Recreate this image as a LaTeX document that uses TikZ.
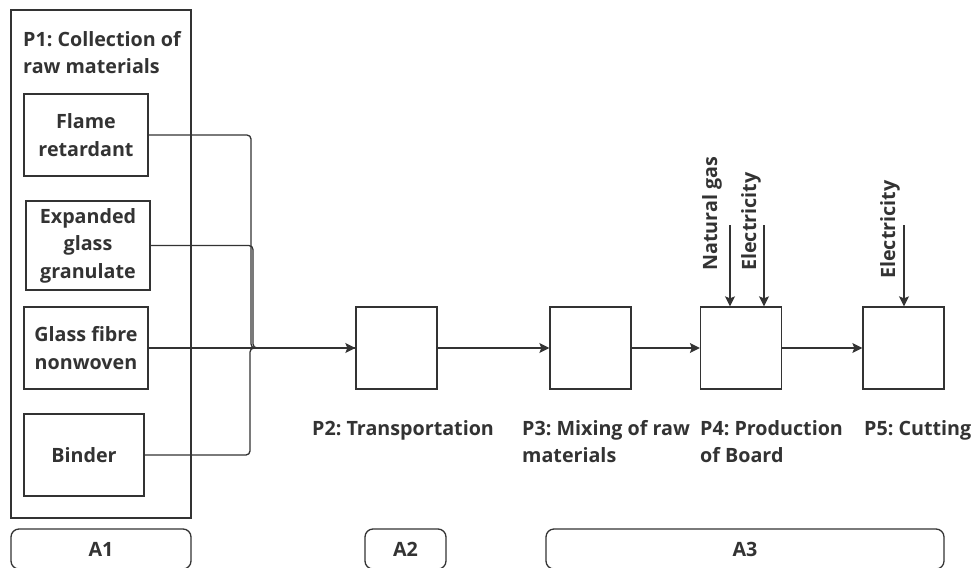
\documentclass[tikz,border=0pt]{standalone}
\usepackage{fontspec}
\setmainfont{Open Sans}
\usetikzlibrary{arrows.meta}
\definecolor{ink}{HTML}{333333}
\frenchspacing
\begin{document}
\begin{tikzpicture}[x=1pt,y=-1pt,
  font=\fontsize{19.7}{27.5}\selectfont\bfseries,
  line/.style={draw=ink, line width=1.3pt},
  conn/.style={line, rounded corners=4pt},
  arr/.style={line, -{Stealth[length=10pt,width=10pt,inset=2pt]}},
  src/.style={line, align=center, inner sep=0pt, text=ink},
  proc/.style={line, minimum width=81pt, minimum height=82pt, inner sep=0pt},
  area/.style={line, rounded corners=8pt, minimum height=40pt, inner sep=0pt, text=ink},
  lbl/.style={align=left, inner sep=0pt, text=ink, anchor=north west},
  vlbl/.style={rotate=90, anchor=west, inner sep=0pt, text=ink}]
\useasboundingbox (0,0) rectangle (973,567);
\clip (0,0) rectangle (973,567);
\fill[white] (0,0) rectangle (973,567);
% P1 container
\node[line, minimum width=180pt, minimum height=508pt, inner sep=0pt] (p1) at (101,264) {};
\node[lbl] (p1t) at (23,31) {P1: Collection of\\raw materials};
% sources
\node[src, minimum width=124pt, minimum height=82pt] (fr) at (86,135) {Flame\\retardant};
\node[src, minimum width=124pt, minimum height=89pt] (eg) at (88,245.5) {Expanded\\glass\\granulate};
\node[src, minimum width=124pt, minimum height=82pt] (gf) at (86,348) {Glass fibre\\nonwoven};
\node[src, minimum width=120pt, minimum height=82pt] (bi) at (84,455) {Binder};
% processes
\node[proc] (p2) at (396.5,348) {};
\node[proc] (p3) at (590.5,348) {};
\node[proc] (p4) at (741,348) {};
\node[proc] (p5) at (903.5,348) {};
% junction points
\coordinate (j1) at (251,348);
\coordinate (j2) at (253,348);
\coordinate (j3) at (250,348);
\draw[conn] (fr.east) -| (j1) -- (p2.west);
\draw[conn] (eg.east) -| (j2) -- (p2.west);
\draw[conn] (bi.east) -| (j3) -- (p2.west);
\draw[arr] (gf.east) -- (p2.west);
\draw[arr] (p2.east) -- (p3.west);
\draw[arr] (p3.east) -- (p4.west);
\draw[arr] (p4.east) -- (p5.west);
% energy inputs
\coordinate (ng) at (730,225);
\coordinate (el4) at (764,225);
\coordinate (el5) at (904,225);
\draw[arr] (ng) -- (ng |- p4.north);
\draw[arr] (el4) -- (el4 |- p4.north);
\draw[arr] (el5) -- (el5 |- p5.north);
\node[vlbl] (ngt) at (712,271) {Natural gas};
\node[vlbl] (el4t) at (751,271) {Electricity};
\node[vlbl] (el5t) at (890,279) {Electricity};
% labels
\node[lbl] (l2) at (312,420) {P2: Transportation};
\node[lbl] (l3) at (522,420) {P3: Mixing of raw\\materials};
\node[lbl] (l4) at (700,420) {P4: Production\\of Board};
\node[lbl] (l5) at (864,420) {P5: Cutting};
% areas
\node[area, minimum width=180pt] (a1) at (101,549) {A1};
\node[area, minimum width=81pt] (a2) at (405.5,549) {A2};
\node[area, minimum width=398pt] (a3) at (745,549) {A3};
\end{tikzpicture}
\end{document}
